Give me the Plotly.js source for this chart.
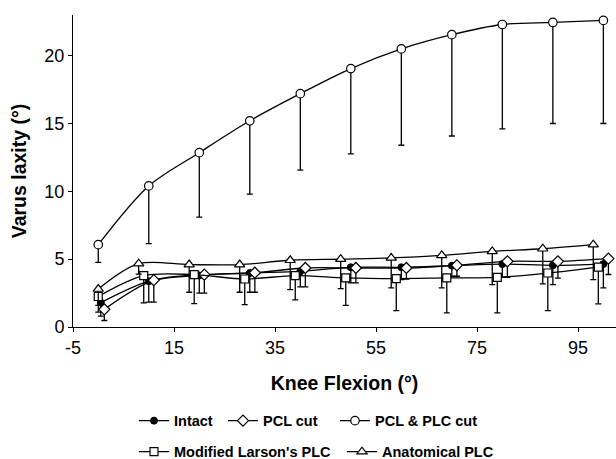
<!DOCTYPE html>
<html>
<head>
<meta charset="utf-8">
<script src="https://cdn.plot.ly/plotly-3.0.1.min.js"></script>
<style>html,body{margin:0;padding:0;background:#fff;}#chart{width:616px;height:459px;}</style>
</head>
<body>
<div id="chart"></div>
<script>
// ---- data ----
var flexion = [0, 10, 20, 30, 40, 50, 60, 70, 80, 90, 100];
var seriesNames = ["Intact", "PCL cut", "PCL & PLC cut", "Modified Larson's PLC", "Anatomical PLC"];

var intactMean   = [1.8, 3.37, 3.8, 3.98, 4.1, 4.4, 4.4, 4.52, 4.64, 4.55, 4.64];
var intactLow    = [0.8, 1.84, 2.5, 2.56, 2.96, 3.25, 3.49, 3.74, 3.66, 3.12, 2.88];

var pclMean      = [1.3, 3.45, 3.86, 4.0, 4.35, 4.35, 4.35, 4.55, 4.84, 4.84, 5.04];
var pclLow       = [0.48, 1.84, 2.5, 2.56, 2.96, 3.25, 3.54, 3.74, 3.66, 3.6, 3.87];

var pclPlcMean   = [6.07, 10.4, 12.85, 15.2, 17.2, 19.05, 20.5, 21.55, 22.3, 22.45, 22.6];
var pclPlcLow    = [4.76, 6.14, 8.1, 9.8, 11.56, 12.76, 13.4, 14.08, 14.6, 15.0, 15.0];

var larsonMean   = [2.25, 3.79, 3.86, 3.54, 3.79, 3.62, 3.57, 3.62, 3.66, 3.98, 4.42];
var larsonLow    = [1.09, 1.78, 1.73, 1.65, 2.0, 1.6, 1.21, 1.04, 1.04, 1.21, 1.70];

var anatMean     = [2.8, 4.67, 4.6, 4.6, 4.92, 5.0, 5.09, 5.28, 5.57, 5.77, 6.07];
var anatLow      = [1.6, 3.9, 2.56, 2.56, 2.76, 2.83, 2.88, 2.88, 3.12, 3.18, 3.49];

var xTicks = [-5, 15, 35, 55, 75, 95];
var yTicks = [0, 5, 10, 15, 20];

// ---- style: small horizontal stagger used in the original to separate the series ----
var stagger = {
  intact:  function (a) { return a === 0 ? 0.5 : 0; },
  pcl:     function (a) { return a === 0 ? 1.2 : 1; },
  pclPlc:  function (a) { return 0; },
  larson:  function (a) { return a === 0 ? 0 : -1; },
  anat:    function (a) { return a === 0 ? 0 : -2; }
};

var FONT = "Liberation Sans, Arial, Helvetica, sans-serif";

function minus(mean, low) { return mean.map(function (m, i) { return m - low[i]; }); }
function zeros(n) { var z = []; for (var i = 0; i < n; i++) z.push(0); return z; }

function makeTrace(name, mean, low, shift, marker, legendId) {
  return {
    type: "scatter",
    mode: "lines+markers",
    name: name,
    legend: legendId,
    x: flexion.map(function (a) { return a + shift(a); }),
    y: mean,
    line: { color: "#000", width: 1.3, shape: "spline", smoothing: 0.9 },
    marker: marker,
    error_y: {
      type: "data", symmetric: false,
      array: zeros(mean.length),
      arrayminus: minus(mean, low),
      color: "#000", thickness: 1.3, width: 3
    },
    hoverinfo: "x+y+name"
  };
}

var openLine = { color: "#000", width: 1.2 };
var traces = [
  makeTrace(seriesNames[0], intactMean, intactLow, stagger.intact,
    { symbol: "circle", size: 7, color: "#000", line: { color: "#000", width: 1 } }, "legend"),
  makeTrace(seriesNames[1], pclMean, pclLow, stagger.pcl,
    { symbol: "diamond", size: 8.5, color: "#fff", line: openLine }, "legend2"),
  makeTrace(seriesNames[2], pclPlcMean, pclPlcLow, stagger.pclPlc,
    { symbol: "circle", size: 8.5, color: "#fff", line: openLine }, "legend3"),
  makeTrace(seriesNames[3], larsonMean, larsonLow, stagger.larson,
    { symbol: "square", size: 8, color: "#fff", line: openLine }, "legend4"),
  makeTrace(seriesNames[4], anatMean, anatLow, stagger.anat,
    { symbol: "triangle-up", size: 9, color: "#fff", line: openLine }, "legend5")
];

function leg(xpx, ypx) {
  return {
    orientation: "h", xref: "container", yref: "container",
    x: xpx / 616, y: 1 - ypx / 459, xanchor: "left", yanchor: "middle",
    bgcolor: "rgba(0,0,0,0)", borderwidth: 0,
    font: { family: FONT, size: 14.5, color: "#000", weight: "bold" },
    itemwidth: 30, itemclick: false, itemdoubleclick: false
  };
}

var axisCommon = {
  showline: true, linecolor: "#000", linewidth: 1,
  ticks: "outside", ticklen: 4, tickwidth: 1, tickcolor: "#000",
  showgrid: false, zeroline: false,
  tickfont: { family: FONT, size: 18, color: "#000" },
  fixedrange: true, automargin: true
};

var layout = {
  width: 616, height: 459,
  margin: { l: 73, r: 0, t: 14.5, b: 131.5 },
  paper_bgcolor: "#fff", plot_bgcolor: "#fff",
  font: { family: FONT, color: "#000" },
  showlegend: true,
  xaxis: Object.assign({}, axisCommon, {
    range: [-5, 102.5], tickmode: "array", tickvals: xTicks, ticktext: xTicks.map(String),
    title: { text: "Knee Flexion (°)", standoff: 19, font: { family: FONT, size: 19.5, weight: "bold", color: "#000" } }
  }),
  yaxis: Object.assign({}, axisCommon, {
    range: [0, 23], tickmode: "array", tickvals: yTicks, ticktext: yTicks.map(String),
    title: { text: "Varus laxity (°)", standoff: 12, font: { family: FONT, size: 19.5, weight: "bold", color: "#000" } }
  }),
  legend:  leg(134, 420.7),
  legend2: leg(223, 420.7),
  legend3: leg(335, 420.7),
  legend4: leg(134, 451.7),
  legend5: leg(342, 451.7)
};

Plotly.newPlot("chart", traces, layout, { displayModeBar: false, staticPlot: true });
</script>
</body>
</html>
